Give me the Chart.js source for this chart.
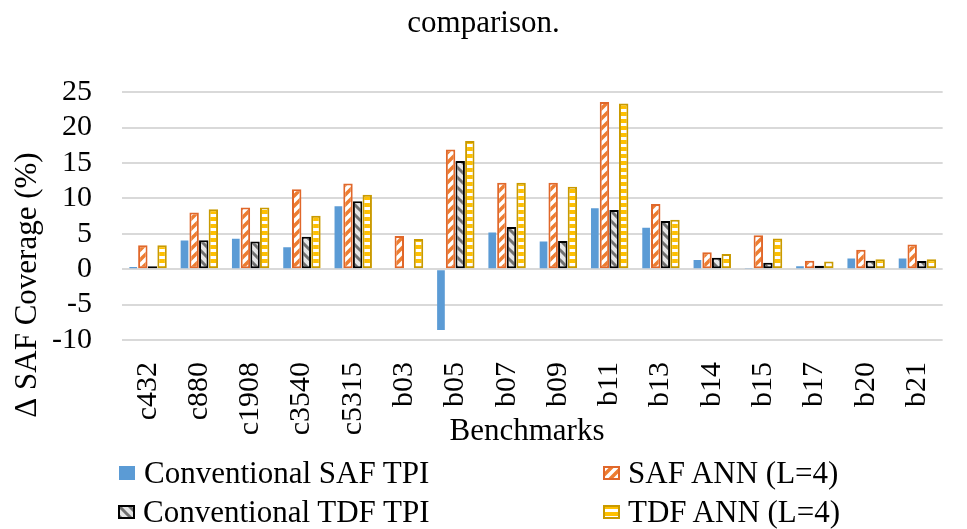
<!DOCTYPE html>
<html>
<head>
<meta charset="utf-8">
<script src="https://cdn.jsdelivr.net/npm/chart.js@4.4.1/dist/chart.umd.min.js"></script>
<style>
  body { margin: 0; background: #fff; }
  #wrap { position: relative; width: 967px; height: 529px; font-family: "Liberation Serif", "Times New Roman", serif; }
  #myChart { position: absolute; left: 0; top: 0; }
  .item { position: absolute; height: 36px; line-height: 36px; font-size: 31px; color: #000; white-space: nowrap; }
  .item canvas { position: absolute; }
</style>
</head>
<body>
<div id="wrap">
  <canvas id="myChart" width="967" height="529"></canvas>
</div>
<script>
let categories = ["c432", "c880", "c1908", "c3540", "c5315", "b03", "b05", "b07", "b09", "b11", "b13", "b14", "b15", "b17", "b20", "b21"];
let safTpi = [0.3, 4.05, 4.3, 3.1, 8.9, 0, -8.6, 5.2, 3.9, 8.6, 5.85, 1.3, 0.1, 0.4, 1.5, 1.5];
let safAnn = [3.4, 8.0, 8.7, 11.3, 12.1, 4.7, 16.9, 12.2, 12.2, 23.6, 9.2, 2.4, 4.8, 1.2, 2.75, 3.5];
let tdfTpi = [0.4, 4.1, 3.9, 4.6, 9.6, 0, 15.3, 5.95, 4.0, 8.35, 6.8, 1.6, 0.9, 0.5, 1.2, 1.15];
let tdfAnn = [3.4, 8.45, 8.7, 7.55, 10.5, 4.25, 18.1, 12.2, 11.65, 23.4, 7.0, 2.15, 4.35, 1.1, 1.4, 1.4];
let seriesNames = ["Conventional SAF TPI", "SAF ANN (L=4)", "Conventional TDF TPI", "TDF ANN (L=4)"];

const FONT = "'Liberation Serif', 'Times New Roman', serif";

// small tiles for the excel-like fill patterns
function tile(kind) {
  let c = document.createElement("canvas");
  let x = c.getContext("2d");
  if (kind == "saf") {
    c.width = c.height = 10;
    x.fillStyle = "#fff";
    x.fillRect(0, 0, 10, 10);
    x.strokeStyle = "#ed7d31";
    x.lineWidth = 3.5;
    x.beginPath();
    x.moveTo(0, 10); x.lineTo(10, 0);
    x.moveTo(-5, 5); x.lineTo(5, -5);
    x.moveTo(5, 15); x.lineTo(15, 5);
    x.stroke();
  } else if (kind == "tdf") {
    c.width = c.height = 10;
    x.fillStyle = "#e6e6e6";
    x.fillRect(0, 0, 10, 10);
    x.strokeStyle = "#707070";
    x.lineWidth = 3;
    x.beginPath();
    x.moveTo(0, 0); x.lineTo(10, 10);
    x.moveTo(-5, 5); x.lineTo(5, 15);
    x.moveTo(5, -5); x.lineTo(15, 5);
    x.stroke();
  } else {
    c.width = 4; c.height = 7;
    x.fillStyle = "#ffc000";
    x.fillRect(0, 0, 4, 7);
    x.fillStyle = "#fff";
    x.fillRect(0, 4, 4, 3);
  }
  return c;
}

var ctx = document.getElementById("myChart");
var c2d = ctx.getContext("2d");
let safPattern = c2d.createPattern(tile("saf"), "repeat");
let tdfPattern = c2d.createPattern(tile("tdf"), "repeat");
let annPattern = c2d.createPattern(tile("ann"), "repeat");

// axis titles drawn by hand so they sit where excel put them
const axisTitles = {
  id: "axisTitles",
  afterDraw(chart) {
    let g = chart.ctx;
    g.save();
    g.fillStyle = "#000";
    g.font = "31px " + FONT;
    g.textAlign = "center";
    g.textBaseline = "middle";
    g.fillText("Benchmarks", 527, 432);
    g.translate(28, 285);
    g.rotate(-Math.PI / 2);
    g.fillText("\u0394 SAF Coverage (%)", 0, 0);
    g.restore();
  },
};

var barChart = new Chart(ctx, {
  type: "bar",
  data: {
    labels: categories,
    datasets: [
      {
        label: seriesNames[0],
        data: safTpi,
        backgroundColor: "#5b9bd5",
        borderWidth: 0,
        barPercentage: 0.8,
      },
      {
        label: seriesNames[1],
        data: safAnn,
        backgroundColor: safPattern,
        borderColor: "#e0672a",
        borderWidth: 2,
        borderSkipped: false,
        barPercentage: 0.98,
      },
      {
        label: seriesNames[2],
        data: tdfTpi,
        backgroundColor: tdfPattern,
        borderColor: "#000",
        borderWidth: 2,
        borderSkipped: false,
        barPercentage: 0.98,
      },
      {
        label: seriesNames[3],
        data: tdfAnn,
        backgroundColor: annPattern,
        borderColor: "#c99a00",
        borderWidth: 2,
        borderSkipped: false,
        barPercentage: 0.98,
      },
    ],
  },
  options: {
    responsive: false,
    animation: false,
    devicePixelRatio: 1,
    categoryPercentage: 0.75,
    layout: {
      padding: { left: 0, right: 0, top: 0, bottom: 89 },
    },
    plugins: {
      legend: { display: false },
      tooltip: { enabled: false },
      title: {
        display: true,
        text: "comparison.",
        color: "#000",
        font: { family: FONT, size: 31, weight: "normal" },
        padding: { top: 5, bottom: 50 },
      },
    },
    scales: {
      x: {
        grid: { display: false },
        border: { display: false },
        ticks: {
          color: "#000",
          font: { family: FONT, size: 30 },
          minRotation: 90,
          maxRotation: 90,
          autoSkip: false,
          padding: 14,
        },
        afterFit(scale) {
          scale.height = 100;
        },
      },
      y: {
        min: -10,
        max: 25,
        grid: { color: "#d9d9d9", lineWidth: 2, drawTicks: false },
        border: { display: false },
        ticks: {
          stepSize: 5,
          autoSkip: false,
          color: "#000",
          font: { family: FONT, size: 30 },
          padding: 30,
        },
        afterFit(scale) {
          scale.width = 122;
        },
      },
    },
  },
  plugins: [axisTitles],
});

// legend below the chart, two columns like the original
let legendItems = [
  { name: seriesNames[0], kind: "blue", x: 119, y: 473 },
  { name: seriesNames[1], kind: "saf", x: 603, y: 473 },
  { name: seriesNames[2], kind: "tdf", x: 118, y: 512 },
  { name: seriesNames[3], kind: "ann", x: 603, y: 512 },
];
let wrap = document.getElementById("wrap");
for (let it of legendItems) {
  let div = document.createElement("div");
  div.className = "item";
  div.style.left = it.x + "px";
  div.style.top = it.y - 18 + "px";
  let sw = document.createElement("canvas");
  sw.width = 17;
  sw.height = 14;
  sw.style.left = "0px";
  sw.style.top = "11px";
  let g = sw.getContext("2d");
  if (it.kind == "blue") {
    g.fillStyle = "#5b9bd5";
    g.fillRect(0, 0, 16, 14);
  } else {
    g.fillStyle = g.createPattern(tile(it.kind), "repeat");
    g.fillRect(0, 0, 17, 14);
    g.strokeStyle = it.kind == "saf" ? "#e0672a" : it.kind == "tdf" ? "#000" : "#c99a00";
    g.lineWidth = 2;
    g.strokeRect(1, 1, 15, 12);
  }
  div.appendChild(sw);
  let span = document.createElement("span");
  span.textContent = it.name;
  span.style.marginLeft = "25px";
  div.appendChild(span);
  wrap.appendChild(div);
}
</script>
</body>
</html>
